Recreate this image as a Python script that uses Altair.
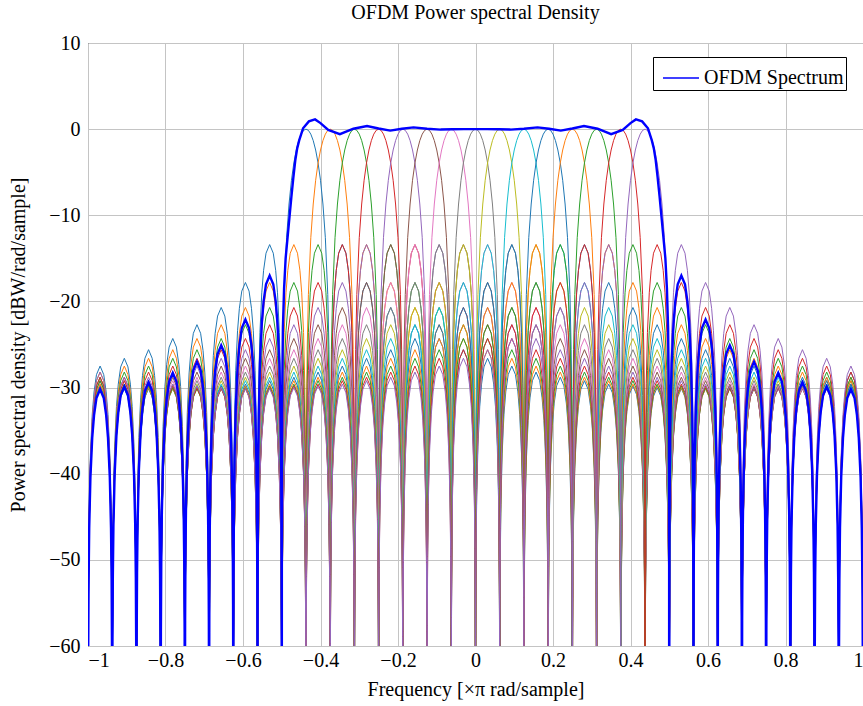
import altair as alt
import pandas as pd

# ---------------- data ----------------
# centres of the 15 sub-carriers (x pi rad/sample) -- their 0 dB peaks
CARRIER_CENTERS = [-0.4375, -0.375, -0.3125, -0.25, -0.1875, -0.125, -0.0625, 0.0,
                   0.0625, 0.125, 0.1875, 0.25, 0.3125, 0.375, 0.4375]
CARRIER_COLORS = ["#1f77b4", "#ff7f0e", "#2ca02c", "#d62728", "#9467bd",
                  "#8c564b", "#e377c2", "#7f7f7f", "#bcbd22", "#17becf",
                  "#1f77b4", "#ff7f0e", "#2ca02c", "#d62728", "#9467bd"]
# spacing between the spectral nulls
NULL_SPACING = 0.0625
NULL_DB = -200.0

# shape of one main lobe half (fraction of NULL_SPACING from the peak -> dB)
MAIN_LOBE_FRAC = [0.0, 0.1, 0.2, 0.3, 0.4, 0.5, 0.6, 0.7, 0.8, 0.9, 0.95, 0.98, 0.995, 1.0]
MAIN_LOBE_DB = [0.0, -0.14, -0.58, -1.33, -2.42, -3.92, -5.94, -8.69, -12.6, -19.2,
                -25.6, -33.8, -46.0, NULL_DB]

# shape of one side lobe (fraction across the lobe -> dB below its top)
SIDELOBE_FRAC = [0.0, 0.003, 0.01, 0.025, 0.05, 0.1, 0.175, 0.25, 0.35, 0.5,
                 0.65, 0.75, 0.825, 0.9, 0.95, 0.975, 0.99, 0.997, 1.0]
SIDELOBE_SHAPE_DB = [NULL_DB, -40.5, -30.1, -22.1, -16.1, -10.2, -5.6, -3.0, -1.0, 0.0,
                     -1.0, -3.0, -5.6, -10.2, -16.1, -22.1, -30.1, -40.5, NULL_DB]
# tops of the 1st .. 15th side lobes of a sub-carrier (dB)
SIDELOBE_PEAKS_DB = [-13.4, -17.8, -20.7, -22.7, -24.3, -25.6, -26.6, -27.5,
                     -28.2, -28.8, -29.2, -29.6, -29.8, -30.0, -30.1]

# total OFDM spectrum, positive half (mirrored for negative frequencies)
TOTAL_PASS_X = [0.0, 0.03, 0.06, 0.09, 0.125, 0.16, 0.19, 0.22, 0.25, 0.28, 0.315,
                0.35, 0.38, 0.4, 0.414, 0.43, 0.445, 0.455, 0.46, 0.465, 0.47, 0.475,
                0.48, 0.485, 0.49, 0.494, 0.497, 0.499, 0.4997, 0.5]
TOTAL_PASS_DB = [0.0, 0.0, -0.02, -0.05, 0.05, 0.2, 0.05, -0.17, 0.08, 0.37, 0.05,
                 -0.58, -0.1, 0.7, 1.13, 0.9, 0.1, -1.3, -2.2, -3.6, -5.6, -7.8,
                 -10.2, -12.6, -15.0, -18.5, -23.0, -31.0, -41.0, NULL_DB]
TOTAL_SIDELOBE_PEAKS_DB = [-17.0, -22.1, -25.1, -27.0, -28.3, -29.4, -29.9, -30.2]

FONT = "Liberation Serif"

# ---------------- build tables ----------------
n_lobes = int(round(2.0 / NULL_SPACING))
rows = []
for ci, c in enumerate(CARRIER_CENTERS):
    m = int(round(c / NULL_SPACING))
    pts = []
    for g in range(-n_lobes // 2, n_lobes // 2):
        left = g * NULL_SPACING
        d = abs(g + 0.5 - m)
        d = min(d, n_lobes - d)
        j = int(round(d - 0.5))
        if j == 0:
            if g == m - 1:
                for f, v in zip(reversed(MAIN_LOBE_FRAC), reversed(MAIN_LOBE_DB)):
                    pts.append((c - f * NULL_SPACING, v))
            else:
                for f, v in zip(MAIN_LOBE_FRAC, MAIN_LOBE_DB):
                    pts.append((c + f * NULL_SPACING, v))
        else:
            sl = SIDELOBE_PEAKS_DB[j - 1]
            for t, v in zip(SIDELOBE_FRAC, SIDELOBE_SHAPE_DB):
                pts.append((left + t * NULL_SPACING, v if v <= NULL_DB else sl + v))
    for i, (x, y) in enumerate(pts):
        rows.append({"s": f"c{ci:02d}", "x": x, "y": y, "i": i})
carriers = pd.DataFrame(rows)

pos = list(zip(TOTAL_PASS_X, TOTAL_PASS_DB))
edge = TOTAL_PASS_X[-1]
for k, sl in enumerate(TOTAL_SIDELOBE_PEAKS_DB):
    left = edge + k * NULL_SPACING
    for t, v in zip(SIDELOBE_FRAC[1:], SIDELOBE_SHAPE_DB[1:]):
        pos.append((left + t * NULL_SPACING, v if v <= NULL_DB else sl + v))
full = [(-x, v) for x, v in reversed(pos) if x > 0] + pos
total = pd.DataFrame({"x": [p[0] for p in full], "y": [p[1] for p in full],
                      "i": list(range(len(full))), "label": "OFDM Spectrum"})

# ---------------- chart ----------------
xs = alt.Scale(domain=[-1, 1], nice=False, zero=False)
ys = alt.Scale(domain=[-60, 10], nice=False, zero=False)
x_axis = alt.Axis(values=[-1, -0.8, -0.6, -0.4, -0.2, 0, 0.2, 0.4, 0.6, 0.8, 1],
                  format="~g", title="Frequency [×π rad/sample]", ticks=False,
                  domain=False, grid=True)
y_axis = alt.Axis(values=[-60, -50, -40, -30, -20, -10, 0, 10], format="d",
                  title="Power spectral density [dBW/rad/sample]", ticks=False,
                  domain=False, grid=True)

thin = alt.Chart(carriers).mark_line(strokeWidth=1, clip=True).encode(
    x=alt.X("x:Q", scale=xs, axis=x_axis),
    y=alt.Y("y:Q", scale=ys, axis=y_axis),
    color=alt.Color("s:N", scale=alt.Scale(domain=[f"c{i:02d}" for i in range(len(CARRIER_CENTERS))],
                                           range=CARRIER_COLORS), legend=None),
    order=alt.Order("i:Q"),
)

thick = alt.Chart(total).mark_line(strokeWidth=2.4, clip=True).encode(
    x=alt.X("x:Q", scale=xs),
    y=alt.Y("y:Q", scale=ys),
    color=alt.Color("label:N", scale=alt.Scale(domain=["OFDM Spectrum"], range=["#0000ff"]),
                    legend=alt.Legend(title=None, orient="none", legendX=565, legendY=14,
                                      symbolType="stroke", symbolSize=1296,
                                      symbolStrokeWidth=1.6, labelFont=FONT, labelFontSize=20,
                                      labelColor="black", padding=2, labelOffset=4,
                                      symbolOffset=7,
                                      strokeColor="black", fillColor="white",
                                      cornerRadius=0)),
    order=alt.Order("i:Q"),
)

chart = alt.layer(thin, thick).resolve_scale(color="independent").properties(
    width=775, height=603,
    title=alt.TitleParams("OFDM Power spectral Density", font=FONT, fontSize=20,
                          fontWeight="normal", color="black", anchor="middle", offset=10),
    autosize=alt.AutoSizeParams(type="none"),
    padding={"left": 88, "top": 43, "right": 0, "bottom": 60},
).configure_view(stroke="black", strokeWidth=1).configure_axis(
    labelFont=FONT, labelFontSize=20, labelColor="black",
    titleFont=FONT, titleFontSize=20, titleFontWeight="normal", titleColor="black",
    gridColor="#c4c4c4", gridWidth=1,
).configure_axisX(labelPadding=4, titlePadding=9).configure_axisY(labelPadding=8, titlePadding=20)

chart.save("out.html", embed_options={"renderer": "svg", "actions": False})
